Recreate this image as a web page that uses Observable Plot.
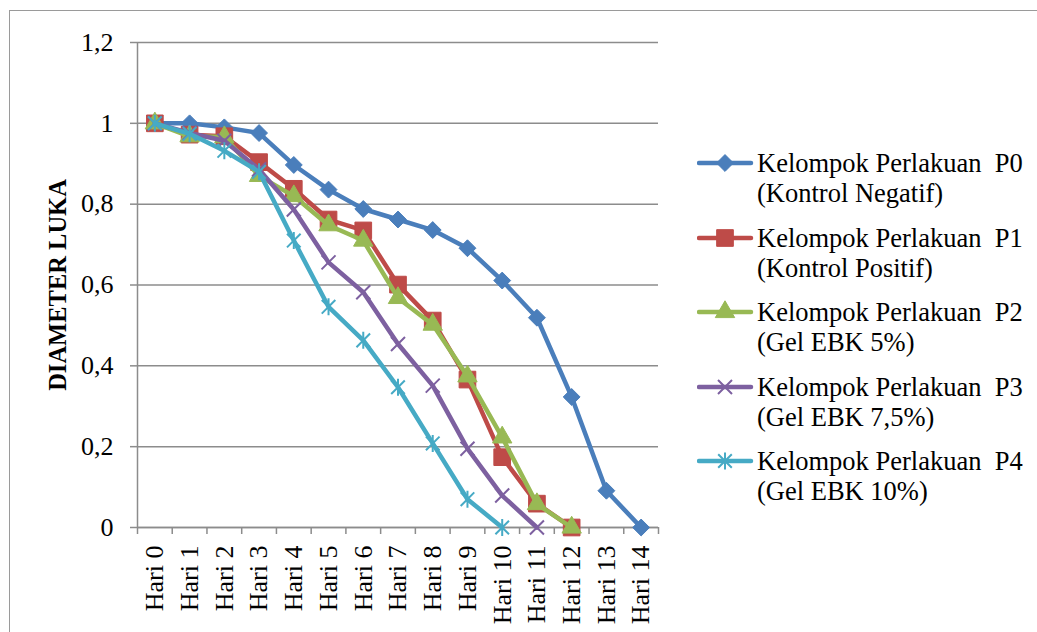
<!DOCTYPE html>
<html><head><meta charset="utf-8">
<script src="https://cdn.jsdelivr.net/npm/d3@7"></script>
<script src="https://cdn.jsdelivr.net/npm/@observablehq/plot@0.6"></script>
<style>
html,body{margin:0;padding:0;background:#fff;}
#wrap{position:relative;width:1037px;height:632px;overflow:hidden;font-family:"Liberation Serif","Times New Roman",serif;}
#frame{position:absolute;left:9px;top:10px;width:1100px;height:700px;border:1.5px solid #9a9a9a;box-sizing:border-box;}
#chart{position:absolute;left:0;top:0;}
#legend{position:absolute;left:697px;top:148px;}
.entry{position:relative;height:60px;margin-bottom:14.6px;width:340px;}
.entry svg{position:absolute;left:0;top:0;}
.entry .t{position:absolute;left:60px;top:0;font-size:26.5px;line-height:30px;white-space:pre;color:#000;}
</style></head><body>
<div id="wrap"><div id="frame"></div><div id="chart"></div><div id="legend"></div></div>
<script>
// ---- data ----
const days = ["Hari 0","Hari 1","Hari 2","Hari 3","Hari 4","Hari 5","Hari 6","Hari 7","Hari 8","Hari 9","Hari 10","Hari 11","Hari 12","Hari 13","Hari 14"];
const seriesNames = [
  "Kelompok Perlakuan  P0\n(Kontrol Negatif)",
  "Kelompok Perlakuan  P1\n(Kontrol Positif)",
  "Kelompok Perlakuan  P2\n(Gel EBK 5%)",
  "Kelompok Perlakuan  P3\n(Gel EBK 7,5%)",
  "Kelompok Perlakuan  P4\n(Gel EBK 10%)"
];
const p0 = [1.0, 1.0, 0.99, 0.976, 0.897, 0.836, 0.788, 0.762, 0.736, 0.691, 0.611, 0.519, 0.323, 0.091, 0];
const p1 = [1.0, 0.972, 0.968, 0.904, 0.838, 0.762, 0.735, 0.601, 0.512, 0.366, 0.174, 0.059, 0];
const p2 = [1.0, 0.968, 0.966, 0.870, 0.820, 0.748, 0.710, 0.568, 0.502, 0.374, 0.223, 0.058, 0];
const p3 = [1.0, 0.976, 0.957, 0.886, 0.787, 0.656, 0.582, 0.454, 0.351, 0.195, 0.079, 0];
const p4 = [1.0, 0.974, 0.932, 0.880, 0.710, 0.546, 0.463, 0.347, 0.208, 0.070, 0];
const colors = ["#4A7EBB", "#BE4B48", "#98B954", "#7D60A0", "#46AAC5"];
const yTicks = [0, 0.2, 0.4, 0.6, 0.8, 1, 1.2];
const yTickLabels = ["0", "0,2", "0,4", "0,6", "0,8", "1", "1,2"];
const yTitle = "DIAMETER LUKA";

// ---- symbols ----
const timesSym = {draw(ctx, size) { const h = Math.sqrt(size / Math.PI);
  ctx.moveTo(-h, -h); ctx.lineTo(h, h); ctx.moveTo(-h, h); ctx.lineTo(h, -h); }};
const starSym = {draw(ctx, size) { const h = Math.sqrt(size / Math.PI), d = h * 0.8;
  ctx.moveTo(-d, -d); ctx.lineTo(d, d); ctx.moveTo(-d, d); ctx.lineTo(d, -d);
  ctx.moveTo(0, -h); ctx.lineTo(0, h); }};
const markerDefs = [
  {symbol: d3.symbolDiamond2, r: 7.6, filled: true},
  {symbol: d3.symbolSquare, r: 9.4, filled: true},
  {symbol: d3.symbolTriangle, r: 7.2, filled: true},
  {symbol: timesSym, r: 7.0, filled: false},
  {symbol: starSym, r: 8.5, filled: false}
];

const allSeries = [p0, p1, p2, p3, p4];
const rows = allSeries.map((vals, s) => vals.map((v, i) => ({s, i, day: days[i], v})));
const bounds = d3.range(days.length + 1).map(i => i - 0.5);

const marks = [
  Plot.gridY(yTicks, {stroke: "#8c8c8c", strokeOpacity: 1, strokeWidth: 1.5}),
  Plot.ruleX([-0.5], {stroke: "#8c8c8c", strokeWidth: 1.5}),
  Plot.ruleY([0], {stroke: "#8c8c8c", strokeWidth: 1.5}),
  Plot.axisY({ticks: yTicks, tickFormat: d => yTickLabels[yTicks.indexOf(d)], tickSize: 7, tickPadding: 17,
    stroke: "#8c8c8c", strokeWidth: 1.5, fill: "#000", label: null}),
  Plot.axisX({ticks: bounds, tickFormat: () => "", tickSize: 7, stroke: "#8c8c8c", strokeWidth: 1.5, label: null}),
  Plot.axisX({ticks: d3.range(days.length), tickFormat: i => days[i], tickSize: 0, tickPadding: 18,
    tickRotate: -90, fill: "#000", label: null}),
  Plot.text([yTitle], {frameAnchor: "left", textAnchor: "middle", dx: -79, rotate: -90,
    fontWeight: "bold", fontSize: 24.5, fill: "#000"})
];
rows.forEach((data, s) => {
  const m = markerDefs[s];
  marks.push(Plot.line(data, {x: "i", y: "v", stroke: colors[s], strokeWidth: 4.5, strokeLinejoin: "round", strokeLinecap: "round"}));
  marks.push(Plot.dot(data, m.filled
    ? {x: "i", y: "v", symbol: m.symbol, r: m.r, fill: colors[s], stroke: colors[s], strokeWidth: 1}
    : {x: "i", y: "v", symbol: m.symbol, r: m.r, fill: "none", stroke: colors[s], strokeWidth: 2}));
});

const chart = Plot.plot({
  width: 1037, height: 632,
  marginLeft: 137, marginRight: 379, marginTop: 42, marginBottom: 105,
  x: {type: "linear", domain: [-0.5, days.length - 0.5]},
  y: {domain: [0, 1.2]},
  style: {fontFamily: '"Liberation Serif","Times New Roman",serif', fontSize: "26px", background: "transparent", color: "#000"},
  marks
});
document.getElementById("chart").appendChild(chart);

// ---- legend ----
const legend = d3.select("#legend");
seriesNames.forEach((name, s) => {
  const m = markerDefs[s];
  const e = legend.append("div").attr("class", "entry");
  const svg = e.append("svg").attr("width", 58).attr("height", 30);
  svg.append("line").attr("x1", 2).attr("x2", 54).attr("y1", 15).attr("y2", 15)
    .attr("stroke", colors[s]).attr("stroke-width", 4.5).attr("stroke-linecap", "round");
  svg.append("path").attr("transform", "translate(28,15)")
    .attr("d", d3.symbol().type(m.symbol).size(Math.PI * m.r * m.r)())
    .attr("fill", m.filled ? colors[s] : "none").attr("stroke", colors[s]).attr("stroke-width", m.filled ? 1 : 2);
  e.append("div").attr("class", "t").text(name);
});
</script>
</body></html>
